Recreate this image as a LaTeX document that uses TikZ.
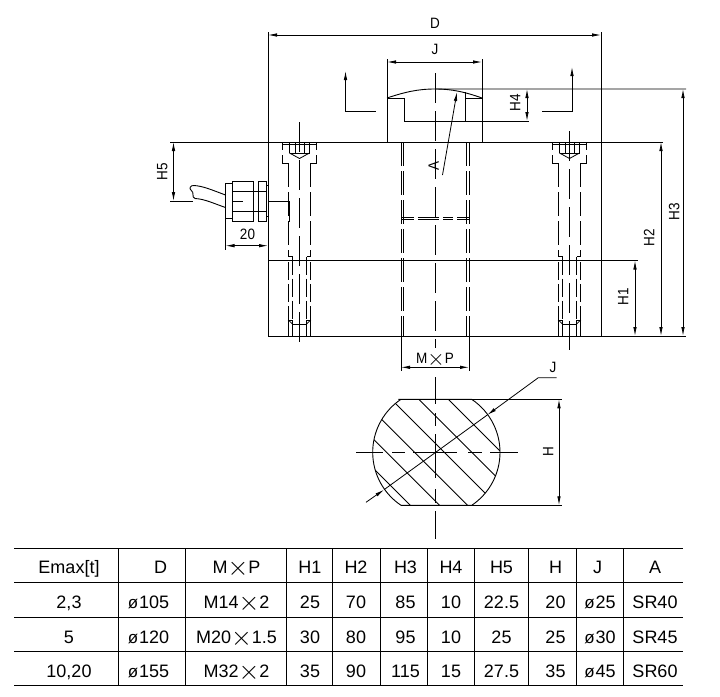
\documentclass[tikz,border=0pt]{standalone}
\usepackage{fontspec}
\setmainfont{Liberation Sans}
\newfontfamily\dimfont[FakeStretch=0.9]{Liberation Sans}
\usetikzlibrary{arrows.meta}
\newcommand{\dia}{{\fontsize{17}{17}\selectfont ø\hspace{1pt}}}
\newcommand{\cross}{\raisebox{-0.12em}{\scalebox{1.55}{$\times$}}}

\begin{document}
\begin{tikzpicture}[x=1pt, y=-1pt, line width=0.9pt,
    dimline/.style={{Latex[length=9pt,width=3.5pt]}-{Latex[length=9pt,width=3.5pt]}, line width=0.8pt},
    leader/.style={-{Latex[length=9pt,width=3.5pt]}, line width=0.8pt},
    centre/.style={dash pattern=on 30pt off 8pt, line width=0.8pt},
    hidden/.style={dash pattern=on 24pt off 5pt},
    label/.style={font=\dimfont\fontsize{15}{15}\selectfont, inner sep=0pt, text height=10.8pt, text depth=0pt},
    cell/.style={font=\fontsize{18}{18}\selectfont, inner sep=0pt, text height=12.9pt, text depth=0pt}]
  \useasboundingbox (0,0) rectangle (720,696);

  % block
  \draw (268,32) -- (268,336);
  \draw (601,32) -- (601,336);
  \draw (170,142) -- (663,142);
  \draw (268,260.5) -- (638,260.5);
  \draw (268,336) -- (686,336);

  % load button
  \draw (387,59) -- (387,142);
  \draw (482,59) -- (482,142);
  \draw (387,98) .. controls (405,92) and (418,89) .. (435,89) -- (686,89);
  \draw (435,89) .. controls (452,89) and (465,92) .. (482,98);
  \draw (387,98) -- (404.5,98) -- (404.5,121) -- (529,121);
  \draw (465.5,92) -- (465.5,121);
  \draw (465.5,98) -- (482,98);
  \draw[centre] (435,73) -- (435,348);

  % section arrows
  \draw[leader] (375.5,111) -- (345.5,111) -- (345.5,71);
  \draw[leader] (542,111) -- (572,111) -- (572,67);

  % bore
  \foreach \x in {401,403.5,466.5,469}
    \draw[hidden] (\x,142) -- (\x,336);
  \draw[dash pattern=on 13pt off 4pt on 21pt off 4pt on 10pt off 4pt on 21pt] (401,217.3) -- (469,217.3);
  \draw[dash pattern=on 13pt off 4pt on 21pt off 4pt on 10pt off 4pt on 21pt] (401,219.3) -- (469,219.3);

  % bolts
  \draw[centre] (299.5,122) -- (299.5,343);
  \draw[centre] (569.5,131) -- (569.5,350);
  \foreach \cx in {299.5,569.5} {
    \begin{scope}[shift={(\cx,0)}, line width=0.8pt]
      \draw (-17,144) -- (17,144);
      \draw (-17,142) -- (-17,150) (17,142) -- (17,150);
      \draw (-17,155) -- (-17,163) -- (-10.7,163) (17,155) -- (17,163) -- (10.7,163);
      \draw (-10,142) -- (-10,153) -- (0,158.5) -- (10,153) -- (10,142);
      \draw (-10,153) -- (10,153);
      \draw (-4.5,142) -- (-4.5,153) (4.5,142) -- (4.5,153);
      \draw[hidden] (-10.7,163) -- (-10.7,256.5) -- (-7,256.5);
      \draw[hidden] (10.7,163) -- (10.7,256.5) -- (7,256.5);
      \draw[dash pattern=on 18pt off 4pt] (-10.7,262) -- (-10.7,320.5);
      \draw[dash pattern=on 18pt off 4pt] (10.7,262) -- (10.7,320.5);
      \draw[dash pattern=on 18pt off 4pt] (-7,256.5) -- (-7,320.5);
      \draw[dash pattern=on 18pt off 4pt] (7,256.5) -- (7,320.5);
      \draw (-10.7,320.5) -- (-10.7,336) (10.7,320.5) -- (10.7,336);
      \draw (-7,324) -- (-7,336) (7,324) -- (7,336) (-7,324) -- (7,324);
      \draw (-10.7,320.5) -- (-7,320.5) -- (-7,324) -- cycle;
      \draw (10.7,320.5) -- (7,320.5) -- (7,324) -- cycle;
    \end{scope}
  }

  % cable gland
  \draw (225.5,183.5) rectangle (232,218.5);
  \draw (232,181) rectangle (253.7,221.7);
  \draw (253.7,191) rectangle (258.3,211.7);
  \draw (258.3,181) rectangle (266.7,221.7);
  \draw (266.7,185) -- (268,185) (266.7,216.7) -- (268,216.7);
  \draw (232,191) -- (253.7,191) (232,211.7) -- (253.7,211.7);
  \draw (258.3,191) -- (266.7,191) (258.3,211.7) -- (266.7,211.7);
  \draw (233,201) -- (243,201);
  \draw (268,201) -- (289,201) -- (289,222);
  \draw (170,201) -- (193,201);
  \draw (225.5,195) .. controls (212,190) and (203,186) .. (194,185.5)
    .. controls (190,185) and (189,189) .. (191,190)
    .. controls (195,193) and (191,197) .. (195,198.5)
    .. controls (205,199) and (215,204) .. (225.5,207.5);

  % dimensions main view
  \draw[dimline] (268,35) -- (601,35);
  \node[label] (lblD) at (435,23) {D};
  \draw[dimline] (387,62) -- (482,62);
  \node[label] (lblJ) at (435,49) {J};
  \draw[dimline] (527,89) -- (527,121);
  \node[label, rotate=90] (lblHfour) at (515,103) {H4};
  \draw[dimline] (173.5,142) -- (173.5,201);
  \node[label, rotate=90] (lblHfive) at (162,172) {H5};
  \draw (225.5,218.5) -- (225.5,250);
  \draw[dimline] (225.5,245.7) -- (268,245.7);
  \node[label] (lblTwenty) at (247.5,234) {20};
  \draw[dimline] (635,260.5) -- (635,336);
  \node[label, rotate=90] (lblHone) at (623,297) {H1};
  \draw[dimline] (661,142) -- (661,336);
  \node[label, rotate=90] (lblHtwo) at (649,238) {H2};
  \draw[dimline] (683,89) -- (683,336);
  \node[label, rotate=90] (lblHthree) at (674,212) {H3};
  \draw[leader] (442.5,175) -- (457,92);
  \node[label, rotate=90] (lblA) at (433.5,166) {A};
  \draw (401,336) -- (401,371);
  \draw (469,336) -- (469,371);
  \draw[dimline] (401,367.3) -- (469,367.3);
  \node[label] (lblMP) at (435,358) {M\cross P};

  % section
  \def\flatpath{(398.3,399.3) -- (471.7,399.3) arc[start angle=-56.2, end angle=56.2, radius=63.8]
    -- (401,505.3) arc[start angle=123.8, end angle=236.2, radius=63.8] -- cycle}
  \draw \flatpath;
  \begin{scope}
    \clip \flatpath;
    \foreach \c in {49,19.5,-8,-37.7,-65.7,-95}
      \draw[line width=0.8pt] (380+\c,380) -- (530+\c,530);
  \end{scope}
  \draw[line width=0.8pt, dash pattern=on 27pt off 9pt on 13pt off 8pt on 44pt off 11pt on 14pt off 8pt on 28pt] (356,452.3) -- (518.3,452.3);
  \draw[line width=0.8pt, dash pattern=on 27pt off 9pt on 13pt off 8pt on 44pt off 11pt on 14pt off 8pt on 28pt] (435.7,377) -- (435.7,539);
  \draw (471.7,399.3) -- (562,399.3);
  \draw (470.7,505.3) -- (562,505.3);
  \draw[dimline] (559,399.3) -- (559,505.3);
  \node[label, rotate=90] (lblH) at (548,452) {H};
  \draw[line width=0.8pt] (384,489.7) -- (487.4,414.9);
  \draw[leader] (556.7,377.7) -- (538.3,377.7) -- (487.4,414.9);
  \draw[leader] (366,502.3) -- (384,489.7);
  \node[label] (lblJsec) at (553,367.5) {J};

  % table
  \foreach \y in {548.3,582.3,617.3,651.7,685.3}
    \draw (14.3,\y) -- (682.7,\y);
  \foreach \x in {118.3,185.3,286.7,332.3,380.3,427.7,474.7,528.3,576.7,623.3}
    \draw (\x,548.3) -- (\x,685.3);
  \foreach \x/\t [count=\c] in {69/{Emax[t]},160.5/D,236.5/{M\cross P},310/H1,356/H2,405.5/H3,451/H4,501.5/H5,555.5/H,597.5/J,655/A}
    \node[cell] (head\c) at (\x,567) {\t};
  \foreach \x/\t [count=\c] in {69/{2,3},148.5/{\dia 105},236.5/{M14\cross 2},310/25,356/70,405.5/85,451/10,501.5/22.5,555.5/20,600/{\dia 25},655/SR40}
    \node[cell] (rowa\c) at (\x,601.7) {\t};
  \foreach \x/\t [count=\c] in {69/5,148.5/{\dia 120},236.5/{M20\cross 1.5},310/30,356/80,405.5/95,451/10,501.5/25,555.5/25,600/{\dia 30},655/SR45}
    \node[cell] (rowb\c) at (\x,636.7) {\t};
  \foreach \x/\t [count=\c] in {69/{10,20},148.5/{\dia 155},236.5/{M32\cross 2},310/35,356/90,405.5/115,451/15,501.5/27.5,555.5/35,600/{\dia 45},655/SR60}
    \node[cell] (rowc\c) at (\x,671) {\t};
\end{tikzpicture}
\end{document}
